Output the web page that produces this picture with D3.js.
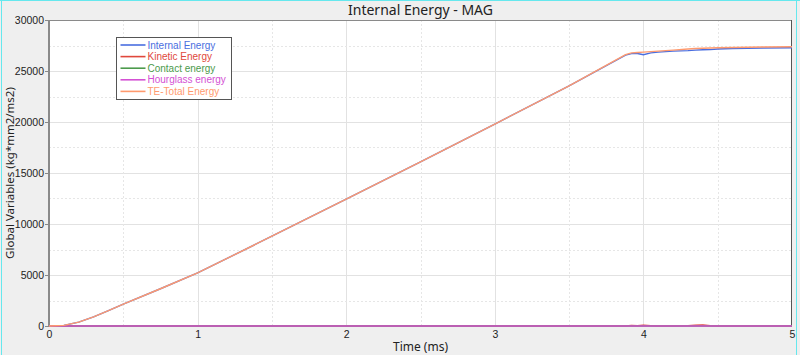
<!DOCTYPE html>
<html>
<head>
<meta charset="utf-8">
<script src="https://cdn.jsdelivr.net/npm/d3@7"></script>
<style>
  body { margin: 0; background: #efefef; }
  svg { display: block; font-family: "Noto Sans", "Open Sans", sans-serif; }
</style>
</head>
<body>
<div id="chart"></div>
<script>
// Data
const time = [0, 0.1, 0.2, 0.3, 0.4, 0.5, 0.75, 1, 1.5, 2, 2.5, 3, 3.5, 3.88, 3.92, 3.96, 4.0, 4.05, 4.1, 4.2, 4.3, 4.35, 4.4, 4.45, 4.5, 4.6, 4.8, 5];
const internalEnergy = [0, 60, 380, 900, 1500, 2150, 3650, 5200, 8800, 12450, 16100, 19800, 23550, 26550, 26700, 26720, 26600, 26780, 26850, 26950, 27000, 27050, 27080, 27100, 27150, 27200, 27250, 27280];
const kineticEnergy = [0, 0, 0, 0, 0, 0, 0, 0, 0, 0, 0, 0, 0, 0, 60, 30, 90, 40, 0, 0, 40, 80, 100, 30, 0, 0, 0, 0];
const contactEnergy = time.map(() => 0);
const hourglassEnergy = time.map(() => 0);
const totalEnergy = [0, 60, 380, 900, 1500, 2150, 3650, 5200, 8800, 12450, 16100, 19800, 23550, 26600, 26780, 26820, 26850, 26900, 26950, 27050, 27150, 27200, 27230, 27260, 27280, 27310, 27350, 27380];

const seriesNames = ["Internal Energy", "Kinetic Energy", "Contact energy", "Hourglass energy", "TE-Total Energy"];
const seriesColors = ["#4a6ee0", "#e0483c", "#4c9a4c", "#d451d4", "#ff9a6e"];
const seriesValues = [internalEnergy, kineticEnergy, contactEnergy, hourglassEnergy, totalEnergy];

const xTicks = [0, 1, 2, 3, 4, 5];
const yTicks = [0, 5000, 10000, 15000, 20000, 25000, 30000];

const W = 800, H = 355;
const margin = {top: 20, right: 8, bottom: 29, left: 49};
const width = W - margin.left - margin.right,
    height = H - margin.top - margin.bottom;

const svg = d3.select("#chart").append("svg")
    .attr("width", W)
    .attr("height", H);

// frame
svg.append("line").attr("x1", 0).attr("x2", W).attr("y1", 0.5).attr("y2", 0.5).attr("stroke", "#66e8ee");
svg.append("line").attr("x1", 1.5).attr("x2", 1.5).attr("y1", 0).attr("y2", H).attr("stroke", "#66e8ee");
svg.append("line").attr("x1", 796.5).attr("x2", 796.5).attr("y1", 0).attr("y2", H).attr("stroke", "#66e8ee");

const g = svg.append("g")
    .attr("transform", "translate(" + margin.left + "," + margin.top + ")");

const x = d3.scaleLinear().domain([0, 5]).range([0, width]);
const y = d3.scaleLinear().domain([0, 30000]).range([height, 0]);

g.append("rect")
    .attr("width", width)
    .attr("height", height)
    .attr("fill", "#fff");

// grid
const minorX = d3.range(0.5, 5, 1);
const minorY = d3.range(2500, 30000, 5000);
g.selectAll(".gx").data(xTicks.slice(1, -1)).join("line")
    .attr("x1", d => Math.round(x(d)) + 0.5).attr("x2", d => Math.round(x(d)) + 0.5)
    .attr("y1", 0).attr("y2", height)
    .attr("stroke", "#e2e2e2");
g.selectAll(".gy").data(yTicks.slice(1, -1)).join("line")
    .attr("x1", 0).attr("x2", width)
    .attr("y1", d => Math.round(y(d)) + 0.5).attr("y2", d => Math.round(y(d)) + 0.5)
    .attr("stroke", "#e2e2e2");
g.selectAll(".mx").data(minorX).join("line")
    .attr("x1", d => Math.round(x(d)) + 0.5).attr("x2", d => Math.round(x(d)) + 0.5)
    .attr("y1", 0).attr("y2", height)
    .attr("stroke", "#e6e6e6").attr("stroke-dasharray", "2,2");
g.selectAll(".my").data(minorY).join("line")
    .attr("x1", 0).attr("x2", width)
    .attr("y1", d => Math.round(y(d)) + 0.5).attr("y2", d => Math.round(y(d)) + 0.5)
    .attr("stroke", "#e6e6e6").attr("stroke-dasharray", "2,2");

// border
g.append("line").attr("x1", 0).attr("x2", width).attr("y1", 0.5).attr("y2", 0.5).attr("stroke", "#8a8a8a");
g.append("line").attr("x1", width - 0.5).attr("x2", width - 0.5).attr("y1", 0).attr("y2", height).attr("stroke", "#555");
g.append("line").attr("x1", 0).attr("x2", width).attr("y1", height).attr("y2", height).attr("stroke", "#8a8a8a");

// axes
const xAxis = g.append("g")
    .attr("transform", "translate(0," + height + ")")
    .call(d3.axisBottom(x).tickValues(xTicks).tickFormat(d3.format("d")).tickSize(0).tickPadding(5));
const yAxis = g.append("g")
    .call(d3.axisLeft(y).tickValues(yTicks).tickFormat(d3.format("d")).tickSize(4).tickPadding(1));
[xAxis, yAxis].forEach(a => {
    a.select(".domain").remove();
    a.selectAll("text").attr("fill", "#222").style("font-size", "10.5px");
    a.selectAll("line").attr("stroke", "#888");
});
g.append("line").attr("x1", 0).attr("x2", 0).attr("y1", 0).attr("y2", height + 1)
    .attr("stroke", "#8a8a8a").attr("stroke-width", 2);

// series
const line = d3.line().x((d, i) => x(time[i])).y(d => y(d));
seriesValues.forEach((vals, k) => {
    g.append("path")
        .datum(vals)
        .attr("fill", "none")
        .attr("stroke", seriesColors[k])
        .attr("stroke-width", 1.4)
        .attr("d", line);
});

// titles
svg.append("text")
    .attr("x", margin.left + width / 2)
    .attr("y", 15)
    .attr("text-anchor", "middle")
    .style("font-size", "14px")
    .attr("fill", "#222")
    .text("Internal Energy - MAG");

svg.append("text")
    .attr("x", margin.left + width / 2)
    .attr("y", 351)
    .attr("text-anchor", "middle")
    .style("font-size", "12px")
    .attr("fill", "#222")
    .text("Time (ms)");

svg.append("text")
    .attr("transform", "translate(14," + (margin.top + height / 2) + ") rotate(-90)")
    .attr("text-anchor", "middle")
    .style("font-size", "11.5px")
    .attr("fill", "#222")
    .text("Global Variables (kg*mm2/ms2)");

// legend
const legend = svg.append("g").attr("transform", "translate(116.5,37.5)");
legend.append("rect")
    .attr("width", 115).attr("height", 62)
    .attr("fill", "#fff").attr("stroke", "#555");
seriesNames.forEach((name, k) => {
    const yy = 7.5 + k * 11.6;
    legend.append("line")
        .attr("x1", 4).attr("x2", 29).attr("y1", yy).attr("y2", yy)
        .attr("stroke", seriesColors[k]).attr("stroke-width", 1.6);
    legend.append("text")
        .attr("x", 31).attr("y", yy + 3.5)
        .style("font-family", "'Liberation Sans', sans-serif")
        .style("font-size", "10px")
        .attr("fill", seriesColors[k])
        .text(name);
});
</script>
</body>
</html>
